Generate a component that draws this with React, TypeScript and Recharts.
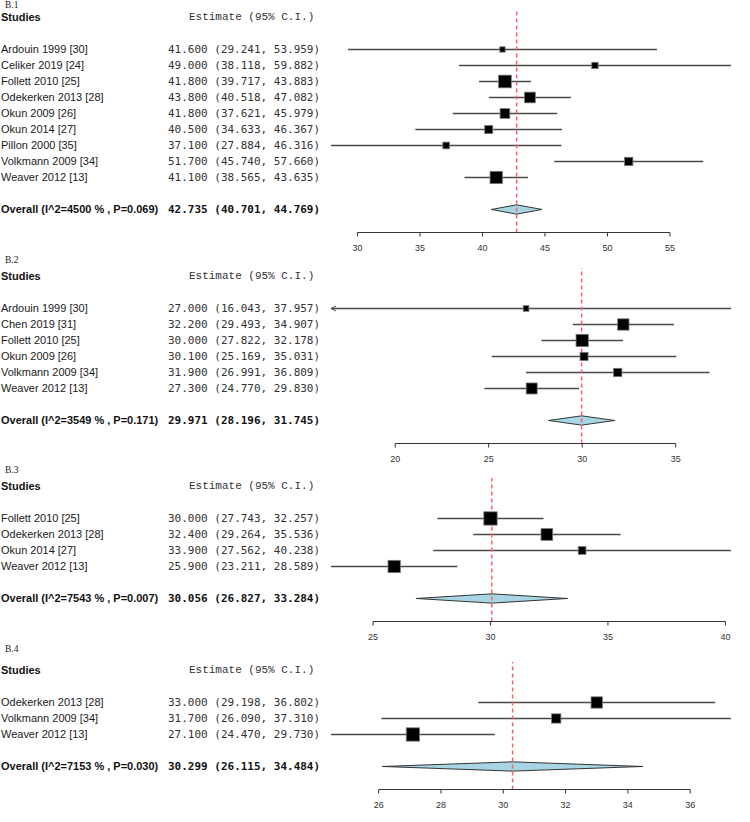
import React from 'react';
import { ScatterChart, Scatter, XAxis, YAxis, ZAxis, ReferenceLine, ReferenceArea } from 'recharts';

// ---- B.1 ----
const b1Studies = ['Ardouin 1999 [30]', 'Celiker 2019 [24]', 'Follett 2010 [25]', 'Odekerken 2013 [28]', 'Okun 2009 [26]', 'Okun 2014 [27]', 'Pillon 2000 [35]', 'Volkmann 2009 [34]', 'Weaver 2012 [13]'];
const b1Est = [41.6, 49.0, 41.8, 43.8, 41.8, 40.5, 37.1, 51.7, 41.1];
const b1Lower = [29.241, 38.118, 39.717, 40.518, 37.621, 34.633, 27.884, 45.74, 38.565];
const b1Upper = [53.959, 59.882, 43.883, 47.082, 45.979, 46.367, 46.316, 57.66, 43.635];
const b1Weight = [3.7, 5.2, 21.0, 14.9, 12.3, 8.4, 5.9, 9.0, 19.7];
const b1Overall = { label: 'Overall (I^2=4500 % , P=0.069)', est: 42.735, lower: 40.701, upper: 44.769 };
const b1Ticks = [30, 35, 40, 45, 50, 55];
const b1Domain = [27.884, 59.882];

// ---- B.2 ----
const b2Studies = ['Ardouin 1999 [30]', 'Chen 2019 [31]', 'Follett 2010 [25]', 'Okun 2009 [26]', 'Volkmann 2009 [34]', 'Weaver 2012 [13]'];
const b2Est = [27.0, 32.2, 30.0, 30.1, 31.9, 27.3];
const b2Lower = [16.043, 29.493, 27.822, 25.169, 26.991, 24.77];
const b2Upper = [37.957, 34.907, 32.178, 35.031, 36.809, 29.83];
const b2Weight = [5.7, 22.7, 26.7, 11.3, 12.2, 21.4];
const b2Overall = { label: 'Overall (I^2=3549 % , P=0.171)', est: 29.971, lower: 28.196, upper: 31.745 };
const b2Ticks = [20, 25, 30, 35];
const b2Domain = [16.57, 37.957];

// ---- B.3 ----
const b3Studies = ['Follett 2010 [25]', 'Odekerken 2013 [28]', 'Okun 2014 [27]', 'Weaver 2012 [13]'];
const b3Est = [30.0, 32.4, 33.9, 25.9];
const b3Lower = [27.743, 29.264, 27.562, 23.211];
const b3Upper = [32.257, 35.536, 40.238, 28.589];
const b3Weight = [33.8, 26.1, 11.3, 28.8];
const b3Overall = { label: 'Overall (I^2=7543 % , P=0.007)', est: 30.056, lower: 26.827, upper: 33.284 };
const b3Ticks = [25, 30, 35, 40];
const b3Domain = [23.211, 40.238];

// ---- B.4 ----
const b4Studies = ['Odekerken 2013 [28]', 'Volkmann 2009 [34]', 'Weaver 2012 [13]'];
const b4Est = [33.0, 31.7, 27.1];
const b4Lower = [29.198, 26.09, 24.47];
const b4Upper = [36.802, 37.31, 29.73];
const b4Weight = [32.7, 22.0, 45.3];
const b4Overall = { label: 'Overall (I^2=7153 % , P=0.030)', est: 30.299, lower: 26.115, upper: 34.484 };
const b4Ticks = [26, 28, 30, 32, 34, 36];
const b4Domain = [24.47, 37.31];

const SANS = '"Liberation Sans", Arial, sans-serif';
const MONO = '"DejaVu Sans Mono", monospace';
const COURIER = '"Liberation Mono", "Courier New", monospace';
const CI_COLOR = '#4a4a4a';
const ROW_PX = 16;

const fmt = (e: number, l: number, u: number) => `${e.toFixed(3)} (${l.toFixed(3)}, ${u.toFixed(3)})`;

const panels = [
  { tag: 'B.1', tagY: 5, plotTop: 8.5, boxArea: 766, studies: b1Studies, est: b1Est, lower: b1Lower, upper: b1Upper, weight: b1Weight, overall: b1Overall, ticks: b1Ticks, domain: b1Domain },
  { tag: 'B.2', tagY: 260, plotTop: 268, boxArea: 565, studies: b2Studies, est: b2Est, lower: b2Lower, upper: b2Upper, weight: b2Weight, overall: b2Overall, ticks: b2Ticks, domain: b2Domain },
  { tag: 'B.3', tagY: 470, plotTop: 478, boxArea: 524, studies: b3Studies, est: b3Est, lower: b3Lower, upper: b3Upper, weight: b3Weight, overall: b3Overall, ticks: b3Ticks, domain: b3Domain },
  { tag: 'B.4', tagY: 649, plotTop: 662, boxArea: 391, studies: b4Studies, est: b4Est, lower: b4Lower, upper: b4Upper, weight: b4Weight, overall: b4Overall, ticks: b4Ticks, domain: b4Domain },
];

const squareShape = (p: any) => {
  const side = p.size != null ? Math.sqrt(p.size) : (p.width || 0) * Math.sqrt(Math.PI) / 2;
  return <rect x={p.cx - side / 2} y={p.cy - side / 2} width={side} height={side} fill="#000" stroke="#777" strokeWidth={0.8} />;
};

const ciShape = (arrowLeft: boolean, arrowRight: boolean) => (p: any) => (
  <g>
    <line x1={p.x1} y1={p.y1} x2={p.x2} y2={p.y2} stroke={CI_COLOR} strokeWidth={1.3} />
    {arrowLeft && (
      <polyline points={`${p.x1 + 5},${p.y1 - 2.5} ${p.x1},${p.y1} ${p.x1 + 5},${p.y1 + 2.5}`} fill="none" stroke={CI_COLOR} strokeWidth={1} />
    )}
    {arrowRight && (
      <polyline points={`${p.x2 - 5},${p.y2 - 2.5} ${p.x2},${p.y2} ${p.x2 - 5},${p.y2 + 2.5}`} fill="none" stroke={CI_COLOR} strokeWidth={1} />
    )}
  </g>
);

const diamondShape = (est: number, lo: number, hi: number) => (p: any) => {
  const { x, y, width, height } = p;
  const cx = x + (width * (est - lo)) / (hi - lo);
  const cy = y + height / 2;
  return (
    <polygon
      points={`${x},${cy} ${cx},${y} ${x + width},${cy} ${cx},${y + height}`}
      fill="#a8d5e3"
      stroke="#333"
      strokeWidth={1}
    />
  );
};

const ForestPanel = ({ panel }: { panel: (typeof panels)[number] }) => {
  const n = panel.studies.length;
  const yMin = -2.53;
  const yMax = n + 1 + 1.44;
  const overallRow = n + 1;
  const marginTop = 2;
  const xAxisH = 30;
  const plotH = ROW_PX * (yMax - yMin);
  const height = marginTop + plotH + xAxisH;
  const [d0, d1] = panel.domain;

  const points = panel.studies.map((s, i) => ({ x: panel.est[i], y: i, w: panel.weight[i] }));
  const rowTicks = [-2, ...panel.studies.map((_, i) => i), overallRow];

  const renderRowTick = (props: any) => {
    const v = props.payload.value;
    const y = props.y;
    if (v === -2) {
      return (
        <g>
          <text x={1} y={y} dominantBaseline="central" fontFamily={SANS} fontWeight="bold" fontSize={11} fill="#111">Studies</text>
          <text x={189} y={y} dominantBaseline="central" fontFamily={COURIER} fontSize={11} fill="#333">Estimate (95% C.I.)</text>
        </g>
      );
    }
    if (v === overallRow) {
      const o = panel.overall;
      return (
        <g>
          <text x={1} y={y} dominantBaseline="central" fontFamily={SANS} fontWeight="bold" fontSize={11} fill="#111">{o.label}</text>
          <text x={168} y={y} dominantBaseline="central" fontFamily={MONO} fontWeight="bold" fontSize={11} fill="#111">{fmt(o.est, o.lower, o.upper)}</text>
        </g>
      );
    }
    return (
      <g>
        <text x={1} y={y} dominantBaseline="central" fontFamily={SANS} fontSize={11} fill="#1a1a1a">{panel.studies[v]}</text>
        <text x={168} y={y} dominantBaseline="central" fontFamily={MONO} fontSize={11} fill="#333">{fmt(panel.est[v], panel.lower[v], panel.upper[v])}</text>
      </g>
    );
  };

  return (
    <>
      <div style={{ position: 'absolute', left: 5, top: panel.tagY - 6, fontFamily: '"Liberation Serif", serif', fontSize: 9.5, lineHeight: '12px', color: '#222' }}>
        {panel.tag}
      </div>
      <div style={{ position: 'absolute', left: 0, top: panel.plotTop - marginTop }}>
        <ScatterChart width={750} height={height} margin={{ top: marginTop, right: 19, bottom: 0, left: 0 }}>
          <XAxis
            type="number"
            dataKey="x"
            domain={panel.domain}
            allowDataOverflow
            ticks={panel.ticks}
            interval={0}
            axisLine={false}
            tickLine={{ stroke: '#333' }}
            tickSize={4}
            tickMargin={8}
            height={xAxisH}
            tick={{ fontSize: 9, fill: '#333', fontFamily: SANS }}
          />
          <YAxis
            type="number"
            dataKey="y"
            domain={[yMin, yMax]}
            allowDataOverflow
            reversed
            ticks={rowTicks}
            interval={0}
            width={331}
            axisLine={false}
            tickLine={false}
            tick={renderRowTick}
          />
          <ZAxis type="number" dataKey="w" domain={[0, 100]} range={[0, panel.boxArea]} />
          {panel.studies.map((s, i) => {
            const lo = Math.max(panel.lower[i], d0);
            const hi = Math.min(panel.upper[i], d1);
            return (
              <ReferenceLine
                key={s}
                segment={[{ x: lo, y: i }, { x: hi, y: i }]}
                ifOverflow="visible"
                stroke={CI_COLOR}
                shape={ciShape(panel.lower[i] < d0, panel.upper[i] > d1)}
              />
            );
          })}
          <ReferenceArea
            x1={panel.overall.lower}
            x2={panel.overall.upper}
            y1={overallRow - 0.29}
            y2={overallRow + 0.29}
            ifOverflow="visible"
            shape={diamondShape(panel.overall.est, panel.overall.lower, panel.overall.upper)}
          />
          <ReferenceLine x={panel.overall.est} stroke="#f46666" strokeWidth={1.5} strokeDasharray="4 3" ifOverflow="visible" />
          <ReferenceLine
            segment={[{ x: panel.ticks[0], y: yMax }, { x: panel.ticks[panel.ticks.length - 1], y: yMax }]}
            stroke="#333"
            strokeWidth={1}
            ifOverflow="visible"
          />
          <Scatter data={points} shape={squareShape} isAnimationActive={false} />
        </ScatterChart>
      </div>
    </>
  );
}

export default function App() {
  return (
    <div style={{ position: 'absolute', left: 0, top: 0, width: 750, height: 822, background: '#fff' }}>
      {panels.map((p) => (
        <ForestPanel key={p.tag} panel={p} />
      ))}
    </div>
  );
}
